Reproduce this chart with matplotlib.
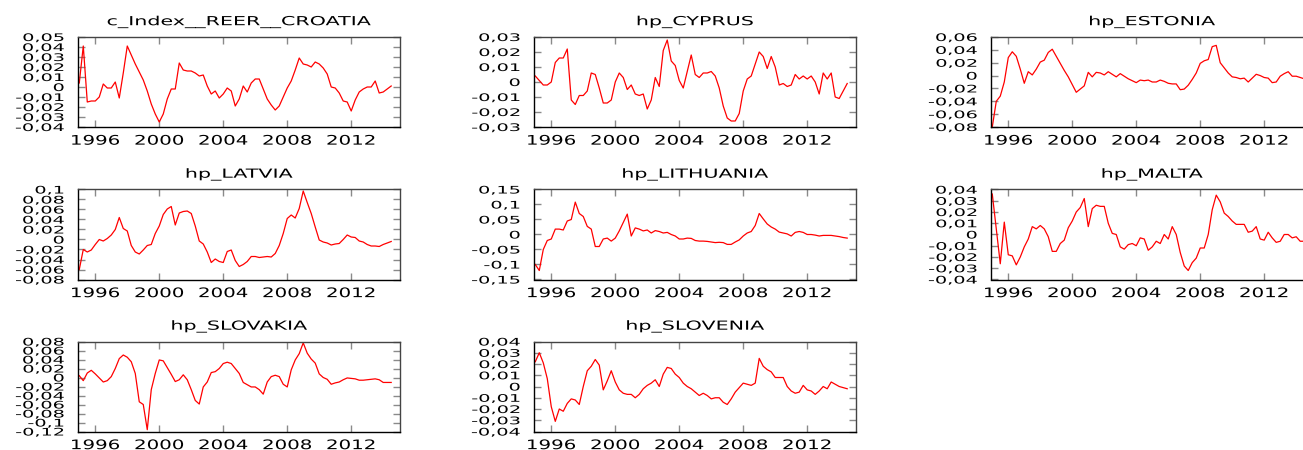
import numpy as np
import pandas as pd
import matplotlib
matplotlib.use("Agg")
import matplotlib.pyplot as plt
from matplotlib.patheffects import AbstractPathEffect
from matplotlib.transforms import Affine2D
from matplotlib.ticker import FuncFormatter

# ============================================================
# Data: quarterly HP-filtered cycles, 1995Q1 - 2014Q3
# ============================================================
quarters = pd.period_range("1995Q1", periods=79, freq="Q")
t = quarters.year + (quarters.quarter - 1) / 4.0

croatia = [0.004, 0.041, -0.015, -0.014,
           -0.014, -0.010, 0.003, -0.001,
           -0.001, 0.005, -0.011, 0.014,
           0.041, 0.032, 0.023, 0.015,
           0.007, -0.004, -0.017, -0.027,
           -0.035, -0.027, -0.012, -0.002,
           -0.002, 0.024, 0.017, 0.016,
           0.016, 0.014, 0.011, 0.012,
           0.001, -0.007, -0.004, -0.011,
           -0.007, -0.001, -0.004, -0.019,
           -0.012, 0.001, -0.005, 0.004,
           0.008, 0.008, -0.002, -0.012,
           -0.018, -0.023, -0.019, -0.010,
           -0.001, 0.006, 0.017, 0.029,
           0.023, 0.022, 0.020, 0.025,
           0.023, 0.019, 0.013, 0.000,
           -0.001, -0.006, -0.014, -0.015,
           -0.024, -0.013, -0.005, -0.002,
           0.000, 0.000, 0.006, -0.006,
           -0.005, -0.002, 0.001]

cyprus = [0.004, 0.001, -0.002, -0.002,
          0.000, 0.013, 0.016, 0.016,
          0.022, -0.012, -0.015, -0.009,
          -0.009, -0.006, 0.006, 0.005,
          -0.004, -0.014, -0.014, -0.012,
          0.000, 0.006, 0.003, -0.005,
          -0.002, -0.008, -0.009, -0.008,
          -0.018, -0.012, 0.003, -0.003,
          0.021, 0.028, 0.014, 0.011,
          0.001, -0.004, 0.007, 0.018,
          0.005, 0.003, 0.006, 0.006,
          0.007, 0.004, -0.004, -0.016,
          -0.024, -0.026, -0.026, -0.021,
          -0.006, 0.002, 0.004, 0.012,
          0.020, 0.017, 0.009, 0.017,
          0.010, -0.002, -0.001, -0.003,
          -0.002, 0.005, 0.002, 0.004,
          0.002, 0.004, 0.000, -0.008,
          0.006, 0.002, 0.006, -0.010,
          -0.011, -0.006, -0.001]

estonia = [-0.080, -0.040, -0.032, -0.010,
           0.028, 0.037, 0.030, 0.010,
           -0.012, 0.006, 0.001, 0.010,
           0.021, 0.024, 0.036, 0.041,
           0.030, 0.019, 0.008, -0.002,
           -0.014, -0.026, -0.021, -0.016,
           0.005, -0.002, 0.005, 0.004,
           0.001, 0.006, 0.002, -0.002,
           0.003, -0.001, -0.005, -0.008,
           -0.011, -0.007, -0.008, -0.007,
           -0.010, -0.010, -0.007, -0.009,
           -0.012, -0.013, -0.013, -0.022,
           -0.021, -0.015, -0.006, 0.004,
           0.019, 0.023, 0.025, 0.045,
           0.047, 0.020, 0.012, 0.004,
           -0.002, -0.003, -0.005, -0.004,
           -0.010, -0.004, 0.002, 0.000,
           -0.003, -0.004, -0.011, -0.010,
           -0.001, 0.003, 0.006, -0.001,
           -0.001, -0.003, -0.005]

latvia = [-0.060, -0.020, -0.025, -0.021,
          -0.010, 0.000, -0.003, 0.002,
          0.009, 0.020, 0.044, 0.022,
          0.017, -0.012, -0.025, -0.029,
          -0.021, -0.012, -0.010, 0.012,
          0.027, 0.050, 0.061, 0.066,
          0.029, 0.053, 0.056, 0.057,
          0.052, 0.027, -0.003, -0.009,
          -0.025, -0.046, -0.039, -0.044,
          -0.046, -0.024, -0.021, -0.042,
          -0.054, -0.050, -0.044, -0.034,
          -0.034, -0.036, -0.035, -0.034,
          -0.035, -0.028, -0.012, 0.012,
          0.042, 0.049, 0.043, 0.062,
          0.097, 0.074, 0.052, 0.025,
          -0.001, -0.005, -0.007, -0.011,
          -0.009, -0.008, 0.000, 0.009,
          0.005, 0.004, -0.003, -0.005,
          -0.010, -0.013, -0.013, -0.014,
          -0.010, -0.007, -0.004]

lithuania = [-0.100, -0.120, -0.050, -0.020,
             -0.015, 0.018, 0.018, 0.015,
             0.045, 0.050, 0.108, 0.070,
             0.060, 0.027, 0.018, -0.040,
             -0.040, -0.015, -0.012, -0.022,
             -0.012, 0.012, 0.040, 0.068,
             -0.005, 0.022, 0.018, 0.012,
             0.015, 0.005, 0.013, 0.010,
             0.005, 0.007, 0.000, -0.005,
             -0.015, -0.015, -0.012, -0.013,
             -0.020, -0.022, -0.022, -0.023,
             -0.025, -0.027, -0.026, -0.027,
             -0.033, -0.033, -0.025, -0.018,
             -0.005, 0.005, 0.010, 0.030,
             0.070, 0.052, 0.035, 0.025,
             0.018, 0.008, 0.005, 0.002,
             -0.005, 0.007, 0.010, 0.007,
             0.000, 0.000, -0.002, -0.005,
             -0.003, -0.003, -0.003, -0.005,
             -0.007, -0.010, -0.012]

malta = [0.036, 0.005, -0.026, 0.011,
         -0.018, -0.019, -0.027, -0.020,
         -0.011, -0.004, 0.007, 0.005,
         0.008, 0.005, -0.002, -0.015,
         -0.015, -0.008, -0.005, 0.006,
         0.012, 0.020, 0.024, 0.032,
         0.007, 0.023, 0.026, 0.025,
         0.025, 0.010, 0.001, 0.000,
         -0.011, -0.013, -0.009, -0.008,
         -0.010, -0.003, -0.004, -0.014,
         -0.011, -0.006, -0.008, 0.000,
         -0.004, 0.007, 0.000, -0.016,
         -0.028, -0.032, -0.025, -0.021,
         -0.012, -0.012, 0.000, 0.022,
         0.035, 0.029, 0.019, 0.016,
         0.012, 0.009, 0.009, 0.009,
         0.002, 0.003, 0.007, -0.004,
         -0.005, 0.002, -0.003, -0.007,
         -0.006, 0.000, 0.000, -0.003,
         -0.002, -0.006, -0.006]

slovakia = [0.004, -0.007, 0.010, 0.016,
            0.008, -0.001, -0.010, -0.007,
            0.002, 0.020, 0.042, 0.050,
            0.045, 0.035, 0.009, -0.054,
            -0.060, -0.116, -0.027, 0.009,
            0.039, 0.037, 0.022, 0.007,
            -0.009, -0.005, 0.006, -0.005,
            -0.027, -0.051, -0.059, -0.021,
            -0.010, 0.011, 0.013, 0.020,
            0.031, 0.034, 0.031, 0.020,
            0.009, -0.011, -0.016, -0.021,
            -0.021, -0.027, -0.037, -0.010,
            0.002, 0.005, 0.002, -0.015,
            -0.021, 0.017, 0.039, 0.053,
            0.077, 0.054, 0.041, 0.032,
            0.008, 0.000, -0.004, -0.015,
            -0.012, -0.010, -0.005, -0.001,
            -0.002, -0.003, -0.006, -0.006,
            -0.005, -0.004, -0.003, -0.005,
            -0.011, -0.011, -0.011]

slovenia = [0.022, 0.030, 0.021, 0.007,
            -0.018, -0.031, -0.020, -0.022,
            -0.015, -0.011, -0.012, -0.016,
            0.000, 0.014, 0.018, 0.024,
            0.019, -0.003, 0.005, 0.014,
            0.004, -0.003, -0.006, -0.007,
            -0.007, -0.010, -0.007, -0.002,
            0.001, 0.003, 0.006, 0.000,
            0.011, 0.017, 0.016, 0.011,
            0.008, 0.003, 0.000, -0.002,
            -0.005, -0.008, -0.006, -0.008,
            -0.011, -0.010, -0.010, -0.014,
            -0.016, -0.011, -0.005, -0.001,
            0.003, 0.002, 0.001, 0.003,
            0.025, 0.018, 0.015, 0.013,
            0.008, 0.008, 0.008, 0.000,
            -0.004, -0.006, -0.005, 0.001,
            -0.003, -0.004, -0.007, -0.004,
            0.000, -0.002, 0.004, 0.002,
            0.000, -0.001, -0.002]

titles = ["c_Index__REER__CROATIA", "hp_CYPRUS", "hp_ESTONIA",
          "hp_LATVIA", "hp_LITHUANIA", "hp_MALTA",
          "hp_SLOVAKIA", "hp_SLOVENIA"]
series = [croatia, cyprus, estonia, latvia, lithuania, malta, slovakia, slovenia]

# y range (low, high, tick step) for every panel
y_ranges = [(-0.04, 0.05, 0.01), (-0.03, 0.03, 0.01), (-0.08, 0.06, 0.02),
            (-0.08, 0.10, 0.02), (-0.15, 0.15, 0.05), (-0.04, 0.04, 0.01),
            (-0.12, 0.08, 0.02), (-0.04, 0.04, 0.01)]
year_ticks = [1996, 2000, 2004, 2008, 2012]


# the original gretl output is stretched horizontally -> widen the glyphs
class Stretch(AbstractPathEffect):
    def __init__(self, sx, anchor="center"):
        super().__init__()
        self.sx = sx
        self.anchor = anchor

    def draw_path(self, renderer, gc, tpath, affine, rgbFace=None):
        ext = tpath.get_extents(affine)
        px = ext.x1 if self.anchor == "right" else 0.5 * (ext.x0 + ext.x1)
        aff = affine + Affine2D().translate(-px, 0).scale(self.sx, 1).translate(px, 0)
        renderer.draw_path(gc, tpath, aff, rgbFace)


def comma_fmt(v, pos):
    s = f"{v:.2f}".rstrip("0").rstrip(".")
    if s in ("-0", "0", ""):
        return "0"
    return s.replace(".", ",")


# ============================================================
# Figure
# ============================================================
W, H = 1303, 450
fig = plt.figure(figsize=(W / 100, H / 100), dpi=100)
fig.patch.set_facecolor("white")

col_left = [78, 534, 991]
row_top = [37, 189.5, 341.5]
ax_w, ax_h = 322, 90

for i, (title, vals, (lo, hi, step)) in enumerate(zip(titles, series, y_ranges)):
    r, c = divmod(i, 3)
    ax = fig.add_axes([col_left[c] / W, 1 - (row_top[r] + ax_h) / H, ax_w / W, ax_h / H])
    ax.plot(t, vals, color="#ff0000", linewidth=0.9)

    ax.set_xlim(1994.92, 2015.05)
    ax.set_ylim(lo, hi)
    ax.set_xticks(year_ticks)
    ax.set_xticklabels([str(y) for y in year_ticks])
    ax.set_yticks(np.round(np.arange(lo, hi + step / 2, step), 3))
    ax.yaxis.set_major_formatter(FuncFormatter(comma_fmt))

    ax.tick_params(direction="in", length=5, width=1, color="#8a8a8a",
                   top=True, right=True)
    ax.tick_params(axis="x", labelsize=9.5, pad=5.5)
    ax.tick_params(axis="y", labelsize=7.5, pad=10)
    for side, sp in ax.spines.items():
        sp.set_linewidth(1.0)
        sp.set_color("black" if side in ("left", "bottom") else "#444444")

    for lab in ax.get_xticklabels():
        lab.set_path_effects([Stretch(1.5)])
    for lab in ax.get_yticklabels():
        lab.set_path_effects([Stretch(1.85, anchor="right")])

    ax.set_title(title, fontsize=9, pad=8.5)
    ax.title.set_path_effects([Stretch(1.65)])

plt.savefig("out.png", dpi=100)
plt.close()
